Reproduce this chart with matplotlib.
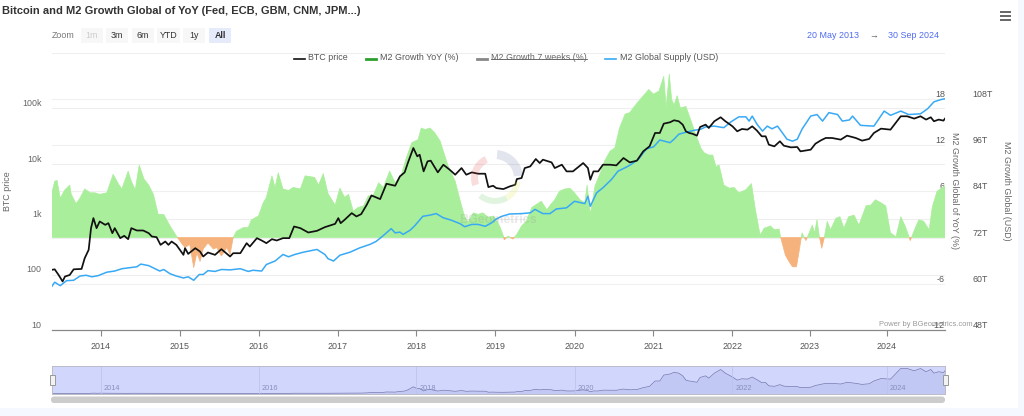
"""Bitcoin vs global M2 growth, three value axes plus a navigator strip."""

import matplotlib

matplotlib.use("Agg")
import matplotlib.pyplot as plt
from matplotlib.patches import FancyBboxPatch, Rectangle, Wedge
from matplotlib.ticker import NullLocator

# x values are positions on the chart's time axis, in years
btc_t = [
    2013.38, 2013.42, 2013.47, 2013.52, 2013.55, 2013.61, 2013.66, 2013.76, 2013.80, 2013.85,
    2013.88, 2013.91, 2013.95, 2013.99, 2014.06, 2014.10, 2014.15, 2014.18, 2014.25, 2014.30,
    2014.35, 2014.39, 2014.46, 2014.54, 2014.61, 2014.65, 2014.71, 2014.76, 2014.82, 2014.86,
    2014.90, 2014.96, 2015.05, 2015.07, 2015.11, 2015.20, 2015.26, 2015.30, 2015.36, 2015.45,
    2015.53, 2015.64, 2015.68, 2015.77, 2015.85, 2015.89, 2015.98, 2016.04, 2016.10, 2016.17,
    2016.23, 2016.31, 2016.39, 2016.45, 2016.53, 2016.63, 2016.74, 2016.84, 2016.97, 2017.01,
    2017.04, 2017.09, 2017.18, 2017.24, 2017.30, 2017.37, 2017.43, 2017.54, 2017.62, 2017.73,
    2017.79, 2017.85, 2017.89, 2017.96, 2018.01, 2018.04, 2018.09, 2018.14, 2018.18, 2018.27,
    2018.34, 2018.42, 2018.49, 2018.57, 2018.63, 2018.70, 2018.78, 2018.87, 2018.91, 2018.97,
    2019.01, 2019.10, 2019.18, 2019.25, 2019.27, 2019.33, 2019.37, 2019.44, 2019.51, 2019.56,
    2019.60, 2019.71, 2019.75, 2019.84, 2019.90, 2019.98, 2020.11, 2020.17, 2020.20, 2020.24,
    2020.30, 2020.36, 2020.45, 2020.53, 2020.62, 2020.70, 2020.79, 2020.87, 2020.95, 2021.02,
    2021.08, 2021.13, 2021.21, 2021.26, 2021.32, 2021.37, 2021.41, 2021.45, 2021.49, 2021.55,
    2021.59, 2021.66, 2021.70, 2021.77, 2021.85, 2021.91, 2022.00, 2022.06, 2022.12, 2022.19,
    2022.25, 2022.31, 2022.37, 2022.42, 2022.46, 2022.53, 2022.60, 2022.65, 2022.74, 2022.82,
    2022.86, 2022.99, 2023.05, 2023.12, 2023.18, 2023.26, 2023.37, 2023.45, 2023.56, 2023.64,
    2023.73, 2023.79, 2023.88, 2024.00, 2024.13, 2024.21, 2024.30, 2024.38, 2024.45, 2024.51,
    2024.55, 2024.61, 2024.67, 2024.69,
]
btc_price = [
    121, 124, 98, 75, 92, 98, 124, 126, 197, 278,
    684, 1037, 684, 902, 785, 841, 556, 684, 452, 498,
    433, 684, 621, 621, 556, 484, 471, 342, 393, 342,
    393, 342, 226, 298, 235, 298, 259, 211, 249, 226,
    286, 211, 242, 242, 367, 319, 452, 410, 367, 433,
    410, 452, 452, 733, 684, 571, 612, 713, 818, 1037,
    841, 968, 1276, 1112, 1225, 1803, 2659, 2284, 4318, 3974,
    5861, 6918, 10190, 19010, 13450, 14420, 7211, 10940, 11250, 6918,
    9506, 7727, 6281, 8279, 6281, 6918, 6546, 6546, 3758, 3974,
    3606, 3459, 3864, 4140, 5248, 5470, 8279, 8872, 12050, 10190,
    11720, 10470, 8279, 9506, 7211, 7211, 10190, 8279, 5105, 7211,
    7211, 9506, 9506, 9247, 12560, 10470, 11250, 16560, 20370, 35480,
    35480, 52240, 55340, 60100, 57680, 50120, 38020, 35480, 34510, 31770,
    45500, 50120, 43650, 57680, 68080, 57680, 46770, 38020, 41880, 40740,
    46770, 39080, 30900, 30900, 21830, 20370, 25120, 20940, 19540, 19820,
    16560, 17740, 22750, 26180, 28840, 28840, 26900, 31770, 28840, 25820,
    27670, 35480, 42460, 40740, 70960, 70960, 64420, 70960, 61800, 68080,
    57680, 61800, 59290, 64420,
]

growth_t = [
    2013.38, 2013.42, 2013.45, 2013.49, 2013.55, 2013.61, 2013.63, 2013.69, 2013.74, 2013.80,
    2013.87, 2013.93, 2013.99, 2014.08, 2014.16, 2014.23, 2014.27, 2014.35, 2014.39, 2014.44,
    2014.49, 2014.55, 2014.61, 2014.67, 2014.73, 2014.80, 2014.88, 2014.96, 2015.03, 2015.07,
    2015.13, 2015.18, 2015.22, 2015.26, 2015.30, 2015.36, 2015.43, 2015.47, 2015.53, 2015.60,
    2015.64, 2015.68, 2015.72, 2015.81, 2015.87, 2015.91, 2016.00, 2016.06, 2016.10, 2016.17,
    2016.21, 2016.25, 2016.31, 2016.38, 2016.44, 2016.53, 2016.59, 2016.71, 2016.76, 2016.82,
    2016.88, 2016.97, 2017.03, 2017.09, 2017.14, 2017.20, 2017.26, 2017.33, 2017.39, 2017.45,
    2017.52, 2017.58, 2017.66, 2017.73, 2017.81, 2017.87, 2017.94, 2018.02, 2018.06, 2018.11,
    2018.17, 2018.23, 2018.30, 2018.34, 2018.40, 2018.49, 2018.55, 2018.60, 2018.65, 2018.72,
    2018.78, 2018.84, 2018.91, 2018.97, 2019.01, 2019.06, 2019.10, 2019.11, 2019.16, 2019.22,
    2019.27, 2019.33, 2019.39, 2019.46, 2019.52, 2019.58, 2019.65, 2019.70, 2019.75, 2019.81,
    2019.88, 2019.94, 2020.00, 2020.07, 2020.13, 2020.16, 2020.20, 2020.26, 2020.32, 2020.38,
    2020.45, 2020.51, 2020.57, 2020.64, 2020.70, 2020.75, 2020.83, 2020.94, 2021.00, 2021.07,
    2021.13, 2021.16, 2021.20, 2021.23, 2021.26, 2021.30, 2021.34, 2021.41, 2021.47, 2021.53,
    2021.60, 2021.64, 2021.70, 2021.75, 2021.79, 2021.83, 2021.89, 2021.96, 2022.02, 2022.08,
    2022.17, 2022.24, 2022.29, 2022.35, 2022.40, 2022.48, 2022.53, 2022.59, 2022.61, 2022.67,
    2022.72, 2022.76, 2022.81, 2022.84, 2022.88, 2022.93, 2022.97, 2023.01, 2023.04, 2023.07,
    2023.10, 2023.13, 2023.16, 2023.20, 2023.24, 2023.31, 2023.36, 2023.41, 2023.47, 2023.54,
    2023.60, 2023.69, 2023.75, 2023.81, 2023.88, 2023.94, 2024.00, 2024.07, 2024.13, 2024.19,
    2024.25, 2024.32, 2024.36, 2024.42, 2024.49, 2024.53, 2024.59, 2024.69,
]
growth_pct = [
    5.6, 7.3, 7.4, 5.1, 6.2, 6.8, 5.6, 4.4, 5.1, 6.3,
    5.8, 5.8, 5.6, 5.8, 8.2, 6.9, 6.3, 8.6, 7.3, 6.2,
    9.4, 7.6, 6.8, 5.6, 3.0, 3.0, 1.5, 0.2, -0.8, -1.3,
    -0.9, -3.9, -2.0, -3.1, -1.5, -0.7, -1.5, -1.3, -2.4, -1.3,
    -2.2, 0.0, 0.8, 1.3, 1.3, 2.3, 2.8, 4.5, 5.2, 8.0,
    6.5, 8.4, 6.3, 6.1, 6.5, 6.3, 8.0, 7.8, 6.8, 8.3,
    5.7, 4.2, 6.4, 5.2, 5.6, 3.4, 3.9, 4.1, 5.4, 5.4,
    7.1, 6.5, 8.6, 7.1, 8.2, 10.3, 12.3, 12.7, 14.2, 14.0,
    14.2, 13.6, 12.5, 11.2, 9.3, 7.3, 4.9, 3.0, 1.9, 3.2,
    3.0, 3.2, 2.6, 2.8, 2.3, 1.3, 0.2, -0.3, 0.2, -0.2,
    0.4, 1.5, 2.1, 3.9, 4.3, 4.7, 3.6, 4.3, 4.9, 6.0,
    6.3, 6.4, 5.8, 4.9, 4.5, 6.8, 3.0, 6.7, 8.2, 9.9,
    11.2, 11.6, 14.2, 16.0, 16.2, 16.9, 17.9, 19.2, 18.6, 19.0,
    20.9, 16.9, 21.2, 17.9, 17.2, 18.4, 16.8, 17.0, 15.3, 13.5,
    11.6, 11.0, 10.7, 10.7, 9.2, 9.4, 6.8, 6.4, 6.5, 5.8,
    6.2, 7.0, 3.6, 0.3, 1.2, 1.5, 1.0, 1.1, 0.0, -2.3,
    -3.2, -3.8, -3.8, -2.0, 0.6, -0.4, 0.6, 1.6, 0.6, 2.3,
    0.1, -1.4, -0.1, 2.1, 1.0, 2.5, 2.7, 1.2, 2.7, 2.9,
    1.6, 4.1, 4.2, 4.9, 4.5, 4.1, 0.6, 0.1, 2.7, 1.4,
    -0.4, 1.4, 2.3, 2.1, 1.0, 4.0, 6.0, 6.7,
]

m2_t = [
    2013.38, 2013.42, 2013.49, 2013.57, 2013.66, 2013.74, 2013.82, 2013.89, 2013.97, 2014.08,
    2014.18, 2014.27, 2014.35, 2014.46, 2014.51, 2014.61, 2014.69, 2014.75, 2014.80, 2014.88,
    2014.96, 2015.05, 2015.11, 2015.18, 2015.25, 2015.30, 2015.36, 2015.45, 2015.53, 2015.64,
    2015.77, 2015.87, 2015.93, 2016.04, 2016.10, 2016.21, 2016.31, 2016.38, 2016.46, 2016.57,
    2016.74, 2016.84, 2016.88, 2016.95, 2017.03, 2017.16, 2017.28, 2017.41, 2017.49, 2017.58,
    2017.68, 2017.73, 2017.79, 2017.83, 2017.92, 2017.98, 2018.08, 2018.17, 2018.25, 2018.34,
    2018.44, 2018.55, 2018.61, 2018.70, 2018.78, 2018.87, 2018.95, 2019.01, 2019.08, 2019.18,
    2019.33, 2019.44, 2019.50, 2019.60, 2019.69, 2019.77, 2019.90, 2020.00, 2020.13, 2020.17,
    2020.20, 2020.28, 2020.36, 2020.47, 2020.55, 2020.66, 2020.72, 2020.81, 2020.91, 2021.00,
    2021.08, 2021.21, 2021.26, 2021.32, 2021.39, 2021.51, 2021.60, 2021.66, 2021.77, 2021.89,
    2021.98, 2022.08, 2022.17, 2022.21, 2022.25, 2022.31, 2022.38, 2022.44, 2022.50, 2022.57,
    2022.63, 2022.69, 2022.76, 2022.82, 2022.88, 2022.99, 2023.07, 2023.14, 2023.22, 2023.33,
    2023.39, 2023.48, 2023.52, 2023.62, 2023.79, 2023.92, 2024.00, 2024.13, 2024.23, 2024.38,
    2024.47, 2024.55, 2024.64, 2024.69,
]
m2_supply = [
    59.2, 60.4, 59.5, 60.8, 60.9, 62.0, 62.2, 61.8, 62.1, 63.0,
    63.3, 63.9, 64.1, 64.4, 65.1, 64.7, 63.9, 63.3, 63.7, 62.6,
    62.0, 61.5, 61.8, 60.9, 62.4, 62.4, 63.4, 63.2, 63.7, 63.6,
    63.9, 63.2, 63.5, 63.3, 65.0, 65.9, 67.6, 67.0, 67.6, 68.2,
    68.9, 67.6, 66.5, 65.9, 67.4, 68.2, 69.3, 70.2, 71.0, 72.5,
    74.3, 73.2, 73.4, 72.8, 73.9, 75.1, 77.5, 77.8, 78.2, 77.1,
    76.5, 75.6, 74.8, 75.4, 75.4, 74.9, 75.8, 76.8, 77.5, 78.1,
    78.2, 78.4, 79.3, 78.2, 78.2, 79.4, 79.7, 81.4, 80.8, 82.7,
    80.1, 83.6, 84.9, 87.1, 89.2, 90.3, 91.0, 92.3, 95.0, 95.5,
    97.3, 96.6, 97.5, 98.8, 99.2, 99.8, 100.1, 100.7, 100.9, 100.5,
    102.0, 103.3, 103.3, 102.2, 103.5, 101.4, 99.6, 100.9, 100.2, 100.9,
    99.2, 97.5, 97.0, 97.5, 100.1, 103.5, 103.9, 102.2, 104.4, 103.9,
    102.2, 102.5, 103.5, 101.1, 100.9, 104.8, 103.7, 104.8, 103.9, 104.1,
    105.4, 107.2, 107.8, 108.0,
]

year_labels = ["2014", "2015", "2016", "2017", "2018", "2019", "2020", "2021", "2022", "2023", "2024"]
# the time axis is ordinal, so years are not quite evenly spaced
year_pos = [2014.0, 2015.0, 2016.0, 2017.006, 2018.0, 2019.0, 2020.006, 2020.994, 2022.0, 2022.98, 2023.95]

price_ticks = [10, 100, 1000, 10000, 100000, 1000000]
price_labels = ["10", "100", "1k", "10k", "100k", ""]
growth_ticks = [-12, -6, 0, 6, 12, 18]
supply_ticks = [48, 60, 72, 84, 96, 108]

W, H = 1024, 416
LEFT, RIGHT, TOP, BOTTOM = 52, 945, 52.5, 330
GREEN, ORANGE = "#A9EE9A", "#F6B27C"
TEXT = "#666666"
FONT = 6.4

plt.rcParams["font.family"] = ["Liberation Sans", "DejaVu Sans"]


def axes_rect(left, top, right, bottom):
    return [left / W, (H - bottom) / H, (right - left) / W, (bottom - top) / H]


def draw_value_axes(fig):
    rect = axes_rect(LEFT, TOP, RIGHT, BOTTOM)
    xlim = (2013.386, 2024.69)

    ax = fig.add_axes(rect, zorder=1)
    ax.set_facecolor("none")
    ax.set_yscale("log")
    ax.set_xlim(xlim)
    ax.set_ylim(10, 1000000)
    ax.set_yticks(price_ticks, price_labels)
    ax.yaxis.set_minor_locator(NullLocator())
    ax.set_xticks(year_pos, year_labels)
    ax.grid(axis="y", color="#EEEEEE", lw=0.8)
    ax.tick_params(axis="y", length=0, pad=7.5, labelsize=FONT, labelcolor=TEXT)
    ax.tick_params(axis="x", length=4.5, width=0.8, color="#888888", pad=4, labelsize=FONT, labelcolor="#555555")
    for side in ("top", "left", "right"):
        ax.spines[side].set_visible(False)
    ax.spines["bottom"].set_color("#888888")
    ax.spines["bottom"].set_linewidth(0.9)
    plt.setp(ax.get_yticklabels(), va="bottom")

    ax_g = fig.add_axes(rect, zorder=2)
    ax_g.patch.set_visible(False)
    ax_g.set_xlim(xlim)
    ax_g.set_ylim(-12, 24)
    ax_g.fill_between(growth_t, 0, growth_pct, where=[v >= 0 for v in growth_pct], interpolate=True,
                      color=GREEN, lw=0.5)
    ax_g.fill_between(growth_t, 0, growth_pct, where=[v <= 0 for v in growth_pct], interpolate=True,
                      color=ORANGE, lw=0.5)
    ax_g.set_xticks([])
    ax_g.yaxis.tick_right()
    ax_g.set_yticks(growth_ticks, [str(v) for v in growth_ticks])
    ax_g.grid(axis="y", color="#F0F0F0", lw=0.8, zorder=0)
    ax_g.set_axisbelow(True)
    ax_g.tick_params(axis="y", length=0, pad=0, labelsize=FONT, labelcolor="#555555")
    plt.setp(ax_g.get_yticklabels(), va="bottom", ha="right")
    for spine in ax_g.spines.values():
        spine.set_visible(False)

    ax_m = fig.add_axes(rect, zorder=3)
    ax_m.patch.set_visible(False)
    ax_m.set_xlim(xlim)
    ax_m.set_ylim(48, 120)
    ax_m.plot(m2_t, m2_supply, color="#38A9F5", lw=1.1)
    ax_m.set_xticks([])
    ax_m.yaxis.tick_right()
    ax_m.set_yticks(supply_ticks, [f"{v}T" for v in supply_ticks])
    ax_m.tick_params(axis="y", length=0, pad=20, labelsize=FONT, labelcolor="#555555")
    plt.setp(ax_m.get_yticklabels(), va="bottom")
    for spine in ax_m.spines.values():
        spine.set_visible(False)

    ax_b = fig.add_axes(rect, zorder=4)
    ax_b.patch.set_visible(False)
    ax_b.set_yscale("log")
    ax_b.set_xlim(xlim)
    ax_b.set_ylim(10, 1000000)
    ax_b.plot(btc_t, btc_price, color="#111111", lw=1.25)
    ax_b.axis("off")


def draw_navigator(fig):
    ax = fig.add_axes(axes_rect(LEFT, 366, RIGHT, 393.5), zorder=2)
    ax.set_facecolor("#D1D7FC")
    ax.set_xlim(2013.386, 2024.69)
    ax.set_ylim(0, 78000)
    ax.fill_between(btc_t, 0, btc_price, color="#9FA6E0", alpha=0.3, lw=0)
    ax.plot(btc_t, btc_price, color="#7478AE", lw=0.5)
    for pos, label in zip(year_pos[::2], year_labels[::2]):
        ax.axvline(pos, color="#BDC3EE", lw=0.6)
        ax.annotate(label, (pos, 0), xytext=(2, 2.5), textcoords="offset points",
                    fontsize=5.3, color="#8A8EBF")
    ax.set_xticks([])
    ax.set_yticks([])
    for spine in ax.spines.values():
        spine.set_color("#BBBBC8")
        spine.set_linewidth(0.7)


def draw_chrome(fig):
    # everything that is not chart data, placed in screen pixels
    ui = fig.add_axes([0, 0, 1, 1], zorder=5)
    ui.set_xlim(0, W)
    ui.set_ylim(H, 0)
    ui.axis("off")

    ui.text(2, 10.5, "Bitcoin and M2 Growth Global of YoY (Fed, ECB, GBM, CNM, JPM...)",
            fontsize=8.0, fontweight="bold", color="#333333", va="center")
    ui.text(52, 36, "Zoom", fontsize=FONT, color="#777777", va="center")

    buttons = [("1m", 81, 103), ("3m", 106, 128), ("6m", 132, 154), ("YTD", 157, 180), ("1y", 183, 205), ("All", 209, 231)]
    for label, x0, x1 in buttons:
        selected = label == "All"
        ui.add_patch(FancyBboxPatch((x0 + 1, 29), x1 - x0 - 2, 13, boxstyle="round,pad=1",
                                    fc="#E6EBFB" if selected else "#F7F7F7", ec="none"))
        color = "#CCCCCC" if label == "1m" else "#333333"
        ui.text((x0 + x1) / 2, 36, label, fontsize=FONT, color=color, ha="center", va="center",
                fontweight="bold" if selected else "normal")

    ui.text(807, 35.5, "20 May 2013", fontsize=FONT, color="#4F6BF0", va="center")
    ui.text(873.5, 35.5, "→", fontsize=FONT, color="#555555", va="center", ha="center")
    ui.text(888, 35.5, "30 Sep 2024", fontsize=FONT, color="#4F6BF0", va="center")

    for y in (12, 16, 20):
        ui.plot([999.5, 1011], [y, y], color="#666666", lw=1.4, solid_capstyle="butt")

    # legend
    ui.plot([294, 305], [58.5, 58.5], color="#111111", lw=1.2)
    ui.text(308.5, 58, "BTC price", fontsize=FONT, color="#555555", va="center")
    ui.plot([366, 376], [58.5, 58.5], color="#2CA02C", lw=2)
    ui.text(380, 58, "M2 Growth YoY (%)", fontsize=FONT, color="#555555", va="center")
    ui.plot([477, 487], [58.5, 58.5], color="#888888", lw=2)
    ui.text(491, 58, "M2 Growth 7 weeks (%)", fontsize=FONT, color="#666666", va="center")
    ui.plot([491, 587], [58.5, 58.5], color="#555555", lw=0.6)
    ui.plot([605, 616], [58.5, 58.5], color="#38A9F5", lw=1.2)
    ui.text(620, 58, "M2 Global Supply (USD)", fontsize=FONT, color="#555555", va="center")

    # axis titles
    ui.text(8, 191, "BTC price", fontsize=FONT, color=TEXT, rotation=90, ha="center", va="center")
    ui.text(955, 191, "M2 Growth Global of YoY (%)", fontsize=FONT, color=TEXT, rotation=270, ha="center", va="center")
    ui.text(1006, 191, "M2 Growth Global (USD)", fontsize=FONT, color=TEXT, rotation=270, ha="center", va="center")

    ui.text(879, 325, "Power by BGeometrics.com", fontsize=5.4, color="#999999", va="center")

    # watermark
    ui.add_patch(Wedge((495, 178), 28, -85, -5, width=9, fc="#3A4A8A", alpha=0.14, lw=0))
    ui.add_patch(Wedge((495, 178), 24, 160, 245, width=7, fc="#E04040", alpha=0.18, lw=0))
    ui.add_patch(Wedge((495, 178), 26, 10, 60, width=6, fc="#E0E040", alpha=0.18, lw=0))
    ui.add_patch(Wedge((495, 178), 26, 60, 130, width=6, fc="#40C040", alpha=0.16, lw=0))
    ui.text(498, 220, "BGeometrics", fontsize=9, fontweight="bold", color="#888888", alpha=0.18,
            ha="center", va="center")

    # navigator handles and scrollbar
    for x in (LEFT - 2.5, RIGHT - 2.5):
        ui.add_patch(Rectangle((x, 375), 5, 10, fc="#F2F2F2", ec="#999999", lw=0.7))
    ui.add_patch(FancyBboxPatch((51, 396.5), 894, 6.5, boxstyle="round,pad=0,rounding_size=3",
                                fc="#CCCCCC", ec="none"))


def main():
    fig = plt.figure(figsize=(W / 100, H / 100), dpi=100, facecolor="#F5F9FF")
    fig.add_artist(Rectangle((0, (H - 408) / H), 1018 / W, 408 / H, transform=fig.transFigure,
                             fc="white", ec="none", zorder=-1))
    draw_value_axes(fig)
    draw_navigator(fig)
    draw_chrome(fig)
    fig.savefig("out.png", dpi=100, facecolor=fig.get_facecolor())
    plt.close(fig)


if __name__ == "__main__":
    main()
